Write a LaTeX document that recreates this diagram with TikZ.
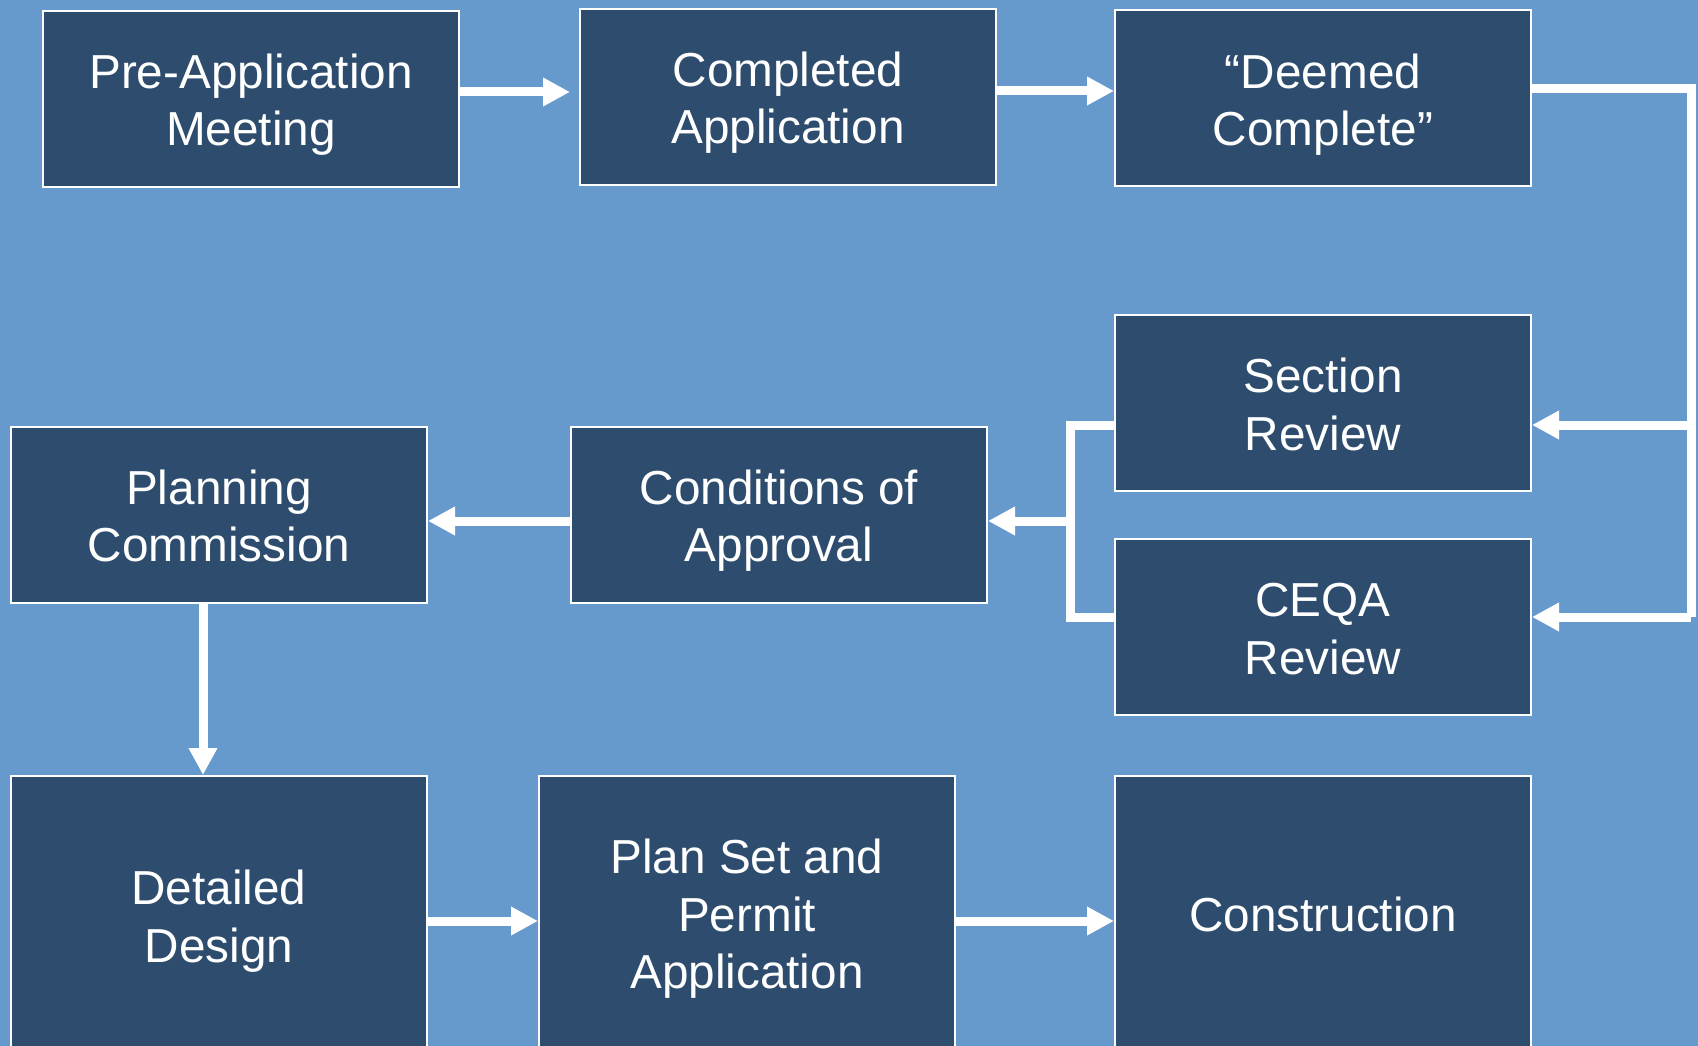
\documentclass[tikz,border=0pt]{standalone}
\usepackage{fontspec}
\setmainfont{Liberation Sans}
\usetikzlibrary{arrows.meta}

\definecolor{bgblue}{RGB}{102,153,204}
\definecolor{boxblue}{RGB}{46,77,110}

\tikzset{
  stepbox/.style={draw=white, line width=2pt, fill=boxblue, text=white,
    align=center, font=\fontsize{47.7}{57.4}\selectfont,
    minimum width=416pt, minimum height=176pt, inner sep=0pt,
    text height=94pt, text depth=0pt},
  oneline/.style={text height=32pt},
  threeline/.style={text height=146.8pt},
  flow/.style={draw=white, line width=9pt,
    -{Triangle[length=27pt,width=27pt]}},
  wire/.style={draw=white, line width=9pt}
}

\begin{document}
\begin{tikzpicture}[x=1pt,y=1pt,yscale=-1]
	\useasboundingbox (0,0) rectangle (1698,1046);
	\clip (0,0) rectangle (1698,1046);
	\fill[bgblue] (0,0) rectangle (1698,1046);

	% top row
	\node[stepbox] (pre) at (251,99) {Pre-Application\\Meeting};
	\node[stepbox] (done) at (788,97) {Completed\\Application};
	\node[stepbox] (deemed) at (1323,98.5) {``Deemed\\Complete''};

	% review boxes
	\node[stepbox] (sect) at (1323,403) {Section\\Review};
	\node[stepbox] (ceqa) at (1323,627) {CEQA\\Review};

	% middle row
	\node[stepbox] (cond) at (779,514.5) {Conditions of\\Approval};
	\node[stepbox] (plan) at (219,514.5) {Planning\\Commission};

	% bottom row (runs off the page)
	\node[stepbox, minimum height=278pt] (design) at (219,915) {Detailed\\Design};
	\node[stepbox, threeline, minimum height=278pt] (permit) at (747,915) {Plan Set and\\Permit\\Application};
	\node[stepbox, oneline, minimum height=278pt] (build) at (1323,915) {Construction};

	% top row arrows
	\draw[flow, shorten >=9pt] ([yshift=-7]pre.east) -- ([yshift=-7]pre.east -| done.west);
	\draw[flow] ([yshift=-6]done.east) -- ([yshift=-6]done.east -| deemed.west);

	% right bus down to the reviews
	\coordinate (rbus) at (1691,0);
	\draw[wire] ([yshift=-9.5]deemed.east) -| ([yshift=-10]rbus |- ceqa.east);
	\draw[flow] ([yshift=-10]rbus |- ceqa.east) -- ([yshift=-10]ceqa.east);
	\draw[flow] ([yshift=22]rbus |- sect.east) -- ([yshift=22]sect.east);

	% left bracket to conditions
	\coordinate (lbus) at (1070,0);
	\draw[wire] ([yshift=22]sect.west) -| ([yshift=-10]lbus |- ceqa.west) -- ([yshift=-10]ceqa.west);
	\draw[flow] ([yshift=6.5]lbus |- cond.east) -- ([yshift=6.5]cond.east);
	\draw[flow] ([yshift=6.5]cond.west) -- ([yshift=6.5]plan.east);

	% down and across the bottom
	\draw[flow] ([xshift=-16]plan.south) -- ([xshift=-16]plan.south |- design.north);
	\draw[flow] ([yshift=6]design.east) -- ([yshift=6]permit.west);
	\draw[flow] ([yshift=6]permit.east) -- ([yshift=6]build.west);
\end{tikzpicture}
\end{document}
